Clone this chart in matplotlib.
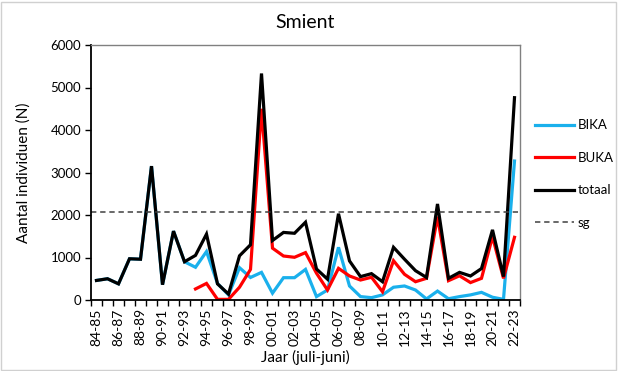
import matplotlib
matplotlib.use("Agg")
import matplotlib.pyplot as plt
from matplotlib.ticker import FixedLocator
import numpy as np

plt.rcParams['font.family'] = ['Lato', 'DejaVu Sans']

seasons = ["84-85", "85-86", "86-87", "87-88", "88-89", "89-90", "90-91", "91-92",
           "92-93", "93-94", "94-95", "95-96", "96-97", "97-98", "98-99", "99-00",
           "00-01", "01-02", "02-03", "03-04", "04-05", "05-06", "06-07", "07-08",
           "08-09", "09-10", "10-11", "11-12", "12-13", "13-14", "14-15", "15-16",
           "16-17", "17-18", "18-19", "19-20", "20-21", "21-22", "22-23"]

totaal = [460, 500, 380, 970, 960, 3150, 360, 1620, 900, 1050, 1550, 380, 140,
          1040, 1300, 5330, 1400, 1590, 1570, 1830, 730, 490, 2030, 920, 550,
          620, 430, 1240, 960, 690, 530, 2260, 510, 650, 565, 740, 1650, 550, 4760]

bika = [460, 500, 380, 970, 960, 3150, 360, 1620, 900, 770, 1140, 390, 120,
        760, 530, 650, 160, 525, 525, 720, 80, 235, 1240, 330, 80,
        55, 120, 300, 330, 235, 25, 210, 30, 80, 120, 180, 65, 15, 3270]

buka = [None] * 9 + [260, 390, 15, 15, 300, 720, 4500, 1220, 1035, 1005, 1115,
                     630, 235, 745, 565, 470, 535, 195, 925, 605, 430, 510,
                     1960, 455, 570, 410, 510, 1490, 510, 1475]

sg = 2080

W, H = 618, 371
fig = plt.figure(figsize=(W / 100, H / 100), dpi=100)
ax = fig.add_axes([91 / W, (H - 300) / H, (520 - 91) / W, (300 - 45) / H])

x = np.arange(len(seasons))
buka_arr = np.array([np.nan if v is None else v for v in buka], dtype=float)

lw = 2.3
l1, = ax.plot(x, bika, color="#1ab0ec", lw=lw, label="BIKA", solid_joinstyle="miter")
l2, = ax.plot(x, buka_arr, color="#ff0000", lw=lw, label="BUKA", solid_joinstyle="miter")
l3, = ax.plot(x, totaal, color="#000000", lw=lw, label="totaal", solid_joinstyle="miter")
l4 = ax.axhline(sg, color="#404040", lw=1.1, ls=(0, (3.5, 2.5)), label="sg")

ax.set_xlim(-0.5, len(seasons) - 0.5)
ax.set_ylim(0, 6000)
ax.set_yticks(range(0, 6001, 1000))
ax.tick_params(axis="y", labelsize=9.5, length=4, width=1, direction="out", pad=3)

ax.set_xticks(x[::2])
ax.set_xticklabels(seasons[::2], rotation=90, fontsize=10)
ax.tick_params(axis="x", which="major", length=0, pad=6)
ax.xaxis.set_minor_locator(FixedLocator(np.arange(-0.5, len(seasons), 1.0)))
ax.tick_params(axis="x", which="minor", length=4, width=1, direction="out")

for side in ["top", "right"]:
    ax.spines[side].set_color("#808080")
    ax.spines[side].set_linewidth(1)
for side in ["left", "bottom"]:
    ax.spines[side].set_color("#000000")
    ax.spines[side].set_linewidth(1.3)

ax.set_title("Smient", fontsize=14, pad=12)
ax.set_ylabel("Aantal individuen (N)", fontsize=11, labelpad=14)
ax.set_xlabel("Jaar (juli-juni)", fontsize=11, labelpad=3)

fig.legend(handles=[l1, l2, l3, l4], loc="center left",
           bbox_to_anchor=(526 / W, 1 - 174 / H), frameon=False,
           fontsize=9.5, handlelength=2.9, labelspacing=1.55, handletextpad=0.3,
           borderaxespad=0.3)

# thin outer frame of the chart area
fig.patches.append(plt.Rectangle((0.002, 0.004), 0.995, 0.99, transform=fig.transFigure,
                                 fill=False, edgecolor="#d0d0d0", lw=1))

fig.savefig("out.png", dpi=100)
